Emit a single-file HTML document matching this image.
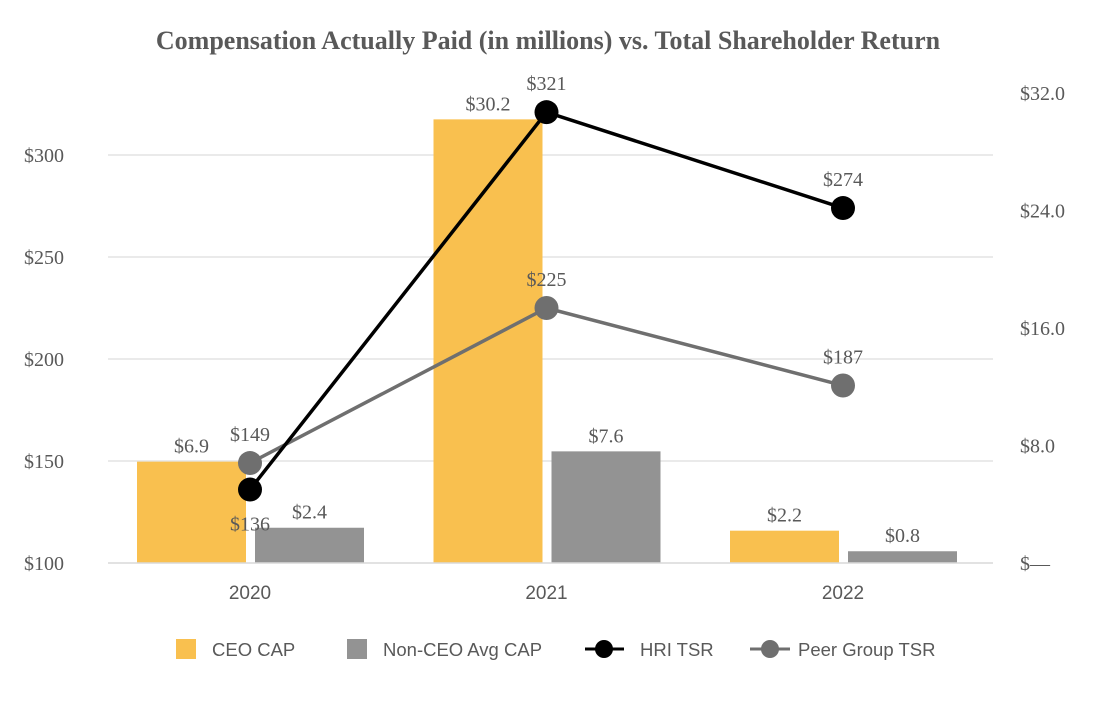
<!DOCTYPE html>
<html><head><meta charset="utf-8"><style>
body{margin:0;background:#fff;}
svg text{font-family:"Liberation Serif",serif;fill:#595959;}
</style></head><body>
<svg id="chart" width="1100" height="700" xmlns="http://www.w3.org/2000/svg">
<text x="548" y="49" text-anchor="middle" font-size="26" font-weight="bold">Compensation Actually Paid (in millions) vs. Total Shareholder Return</text>
<g id="grid"></g><g id="bars"></g><g id="lines"></g><g id="axes"></g>
<g id="legend">
<rect x="176" y="639" width="20" height="20" fill="#F9C04F"/>
<text x="212" y="656" font-size="18.5" style="font-family:'Liberation Sans',sans-serif">CEO CAP</text>
<rect x="347" y="639" width="20" height="20" fill="#939393"/>
<text x="383" y="656" font-size="18.5" style="font-family:'Liberation Sans',sans-serif">Non-CEO Avg CAP</text>
<line x1="585" y1="649" x2="624" y2="649" stroke="#000" stroke-width="3"/>
<circle cx="604" cy="649" r="9" fill="#000"/>
<text x="640" y="656" font-size="18.5" style="font-family:'Liberation Sans',sans-serif">HRI TSR</text>
<line x1="750" y1="649" x2="790" y2="649" stroke="#6F6F6F" stroke-width="3"/>
<circle cx="770" cy="649" r="9" fill="#6F6F6F"/>
<text x="798" y="656" font-size="18.5" style="font-family:'Liberation Sans',sans-serif">Peer Group TSR</text>
</g>
</svg>
<script>
const categories=["2020","2021","2022"];
const ceoCap=[6.9,30.2,2.2];
const nonCeoCap=[2.4,7.6,0.8];
const hriTsr=[136,321,274];
const peerTsr=[149,225,187];
const leftTicks=[100,150,200,250,300];
const leftTickLabels=["$100","$150","$200","$250","$300"];
const rightTicks=[0,8,16,24,32];
const rightTickLabels=["$—","$8.0","$16.0","$24.0","$32.0"];

const NS="http://www.w3.org/2000/svg";
const base=563;
const yL=v=>base-(v-100)*2.04;
const yR=v=>base-v*14.69;
const xC=i=>250+i*296.5;
function mk(tag,attrs,parent,txt){const e=document.createElementNS(NS,tag);for(const k in attrs)e.setAttribute(k,attrs[k]);if(txt!==undefined)e.textContent=txt;document.getElementById(parent).appendChild(e);return e;}

leftTicks.forEach((t,i)=>{
  if(t>100){const g=mk('line',{x1:108,x2:993,y1:yL(t),y2:yL(t),stroke:'#E3E3E3','stroke-width':1.5},'grid');
  
  }
  const l=mk('text',{x:24,y:yL(t)+7,'font-size':20},'axes',leftTickLabels[i]);
  
  
});
rightTicks.forEach((t,i)=>{
  const l=mk('text',{x:1020,y:yR(t)+7,'font-size':20},'axes',rightTickLabels[i]);
  
  
});
const bl=mk('line',{x1:108,x2:993,y1:base,y2:base,stroke:'#D9D9D9','stroke-width':1.5},'axes');


categories.forEach((c,i)=>{
  const t=mk('text',{x:xC(i),y:599,'text-anchor':'middle','font-size':19,style:"font-family:'Liberation Sans',sans-serif"},'axes',c);
  
  
  const x0=xC(i)-113;
  const b1=mk('rect',{x:x0,y:yR(ceoCap[i]),width:109,height:base-yR(ceoCap[i]),fill:'#F9C04F'},'bars');
  
  
  const l1=mk('text',{x:x0+54.5,y:yR(ceoCap[i])-9,'text-anchor':'middle','font-size':20},'bars','$'+ceoCap[i].toFixed(1));
  
  
  const x1=xC(i)+5;
  const b2=mk('rect',{x:x1,y:yR(nonCeoCap[i]),width:109,height:base-yR(nonCeoCap[i]),fill:'#939393'},'bars');
  
  
  const l2=mk('text',{x:x1+54.5,y:yR(nonCeoCap[i])-9,'text-anchor':'middle','font-size':20},'bars','$'+nonCeoCap[i].toFixed(1));
  
  
});
function series(vals,color,name,below){
  const pl=mk('polyline',{points:vals.map((v,i)=>xC(i)+','+yL(v)).join(' '),fill:'none',stroke:color,'stroke-width':3.5},'lines');
  
  
  vals.forEach((v,i)=>{
    const c=mk('circle',{cx:xC(i),cy:yL(v),r:12,fill:color},'lines');
    
    
    const by=(below&&i===0)?yL(v)+41:yL(v)-22;
    const t=mk('text',{x:xC(i),y:by,'text-anchor':'middle','font-size':20},'lines','$'+v);
    
    
  });
}
series(peerTsr,'#6F6F6F','peer-tsr',false);
series(hriTsr,'#000000','hri-tsr',true);
</script>
</body></html>
